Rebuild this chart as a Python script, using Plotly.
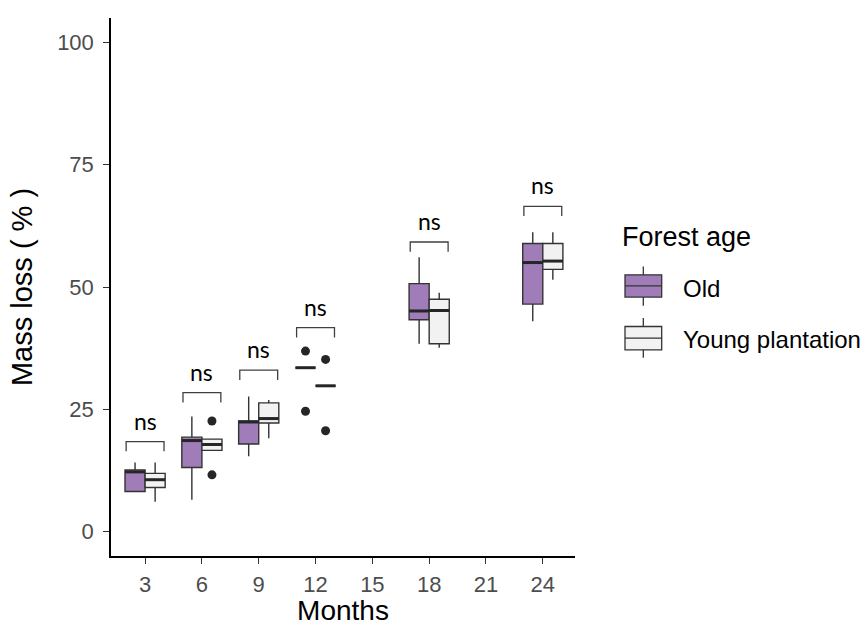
import plotly.graph_objects as go

# ---------------- data ----------------
months = [3, 6, 9, 12, 18, 24]
tick_months = [3, 6, 9, 12, 15, 18, 21, 24]
y_ticks = [0, 25, 50, 75, 100]

old_lo  = [8.2, 6.5, 15.4, 33.5, 38.4, 43.0]
old_q1  = [8.2, 13.1, 17.9, 33.5, 43.3, 46.5]
old_med = [12.2, 18.6, 22.4, 33.5, 45.1, 55.0]
old_q3  = [12.6, 19.3, 22.6, 33.5, 50.7, 58.9]
old_hi  = [14.1, 23.5, 27.6, 33.5, 56.1, 61.2]
old_out_x = [12, 12]
old_out_y = [36.9, 24.6]

young_lo  = [6.1, 16.6, 19.1, 29.8, 37.6, 51.5]
young_q1  = [9.0, 16.6, 22.2, 29.8, 38.4, 53.6]
young_med = [10.6, 17.8, 23.1, 29.8, 45.2, 55.3]
young_q3  = [11.9, 18.9, 26.3, 29.8, 47.5, 58.9]
young_hi  = [14.1, 18.9, 26.9, 29.8, 48.8, 61.2]
young_out_x = [6, 6, 12, 12]
young_out_y = [22.6, 11.6, 35.2, 20.6]

sig_labels = ["ns", "ns", "ns", "ns", "ns", "ns"]
sig_y = [18.4, 28.4, 33.0, 41.7, 59.2, 66.5]

# ---------------- style ----------------
FONT = "Liberation Sans, Arial, sans-serif"
OLD_FILL = "#A07CB8"
YOUNG_FILL = "#F2F2F2"
EDGE = "#333333"
BOXGAP = 0.293
box_w = 3 * (1 - BOXGAP) / 2   # width of one dodged box (in months)
offsets = [-box_w / 2, box_w / 2]

fig = go.Figure()

series = [
    ("Old", old_lo, old_q1, old_med, old_q3, old_hi, old_out_x, old_out_y, OLD_FILL),
    ("Young plantation", young_lo, young_q1, young_med, young_q3, young_hi, young_out_x, young_out_y, YOUNG_FILL),
]

for i, (name, lo, q1, med, q3, hi, ox, oy, fill) in enumerate(series):
    fig.add_trace(go.Box(
        name=name, x=months, q1=q1, median=med, q3=q3,
        lowerfence=lo, upperfence=hi,
        fillcolor=fill, line=dict(color=EDGE, width=1.4),
        whiskerwidth=0, boxpoints=False, showlegend=False,
        hoverinfo="skip",
    ))

for i, (name, lo, q1, med, q3, hi, ox, oy, fill) in enumerate(series):
    # thicker median lines (ggplot fatten)
    mx, my = [], []
    for m, v in zip(months, med):
        c = m + offsets[i]
        mx += [c - box_w / 2, c + box_w / 2, None]
        my += [v, v, None]
    fig.add_trace(go.Scatter(x=mx, y=my, mode="lines",
                             line=dict(color="#262626", width=3),
                             showlegend=False, hoverinfo="skip"))
    # outliers
    fig.add_trace(go.Scatter(x=[m + offsets[i] for m in ox], y=oy, mode="markers",
                             marker=dict(color="#262626", size=9),
                             showlegend=False, hoverinfo="skip"))

# significance brackets
bx, by = [], []
for m, y in zip(months, sig_y):
    bx += [m - 1.0, m - 1.0, m + 1.0, m + 1.0, None]
    by += [y - 2.0, y, y, y - 2.0, None]
fig.add_trace(go.Scatter(x=bx, y=by, mode="lines",
                         line=dict(color="#404040", width=1.3),
                         showlegend=False, hoverinfo="skip"))
for m, y, t in zip(months, sig_y, sig_labels):
    fig.add_annotation(x=m, y=y, text=t, showarrow=False, yanchor="bottom",
                       yshift=5, font=dict(family="Lato, sans-serif", size=23, color="black"))

# ---------------- manual legend (ggplot-style keys) ----------------
L, R, T, B = 111, 575, 18.3, 556.1
def px(xp):
    return (xp - L) / (R - L)
def py(yp):
    return (B - yp) / (B - T)

keys = [
    (OLD_FILL, 266.7, 275, 286, 297.3, 306, "Old", 289),
    (YOUNG_FILL, 318.3, 326.7, 338.3, 350, 358, "Young plantation", 340),
]
kx0, kx1, kxc = 625, 661.7, 643.3
for fill, wt, bt, md, bb, wb, label, ty in keys:
    fig.add_shape(type="line", xref="paper", yref="paper", x0=px(kxc), x1=px(kxc),
                  y0=py(wt), y1=py(wb), line=dict(color=EDGE, width=1.3))
    fig.add_shape(type="rect", xref="paper", yref="paper", x0=px(kx0), x1=px(kx1),
                  y0=py(bt), y1=py(bb), fillcolor=fill, line=dict(color=EDGE, width=1.3))
    fig.add_shape(type="line", xref="paper", yref="paper", x0=px(kx0), x1=px(kx1),
                  y0=py(md), y1=py(md), line=dict(color=EDGE, width=1.3))
    fig.add_annotation(xref="paper", yref="paper", x=px(681), y=py(ty), text=label,
                       showarrow=False, xanchor="left", yanchor="middle",
                       font=dict(family=FONT, size=24, color="black"))
fig.add_annotation(xref="paper", yref="paper", x=px(620), y=py(237), text="Forest age",
                   showarrow=False, xanchor="left", yanchor="middle",
                   font=dict(family=FONT, size=27, color="black"))

# ---------------- layout ----------------
axis_common = dict(
    showgrid=False, zeroline=False, showline=True, linecolor="black", linewidth=1.5,
    ticks="outside", ticklen=6, tickwidth=1.3, tickcolor=EDGE,
    tickfont=dict(family=FONT, size=22, color="#4D4D4D"), automargin=False,
)
fig.update_layout(
    width=868, height=626,
    margin=dict(l=111, r=293, t=18, b=70),
    plot_bgcolor="white", paper_bgcolor="white",
    boxmode="group", boxgap=BOXGAP, boxgroupgap=0,
    showlegend=False,
    xaxis=dict(range=[1.2, 25.7], tickvals=tick_months, ticklabelstandoff=2,
               title=dict(text="Months", font=dict(family=FONT, size=28, color="black"), standoff=8),
               **axis_common),
    yaxis=dict(range=[-5, 105], tickvals=y_ticks, ticklabelstandoff=5,
               title=dict(text="Mass loss ( % )", font=dict(family=FONT, size=29, color="black"), standoff=16),
               **axis_common),
)

fig.write_html("out.html")
